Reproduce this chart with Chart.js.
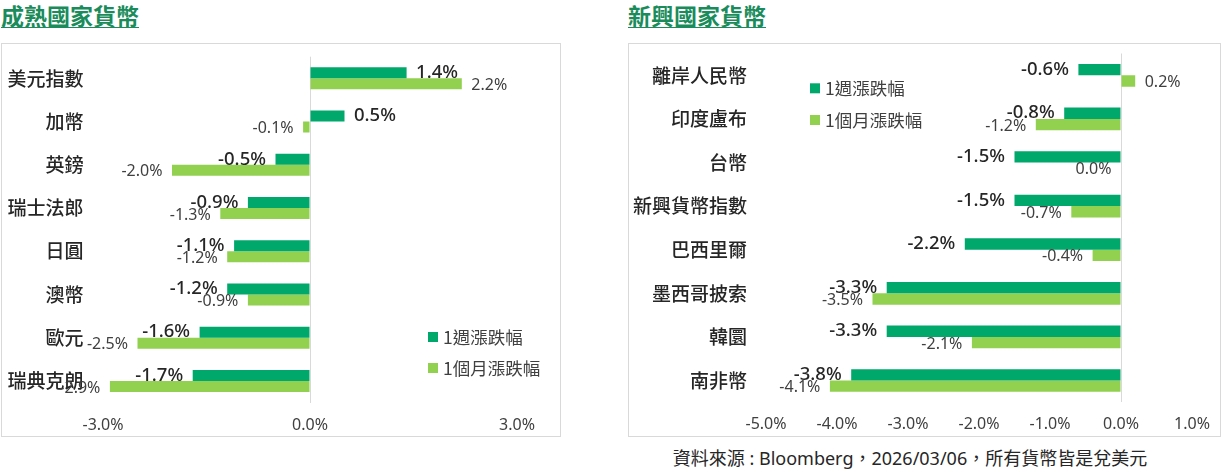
<!DOCTYPE html>
<html>
<head>
<meta charset="utf-8">
<script src="https://cdn.jsdelivr.net/npm/chart.js@4"></script>
<style>
  html, body { margin: 0; padding: 0; background: #ffffff; }
  body { width: 1222px; height: 472px; position: relative; overflow: hidden; }
  .title { position: absolute; top: 3px; font-family: "Noto Sans CJK TC", sans-serif; font-weight: 700;
           font-size: 23px; line-height: 24px; color: #1a8c5b; border-bottom: 1.5px solid #1a8c5b; white-space: nowrap; }
  .box { position: absolute; top: 43px; height: 394px; box-sizing: border-box; border: 1px solid #d9d9d9; }
  .wrap { position: absolute; top: 43px; height: 394px; }
  .source { position: absolute; left: 628px; width: 564px; top: 447px; text-align: center;
            font-family: "Noto Sans", "Noto Sans CJK TC", sans-serif; font-size: 18px; line-height: 22px; color: #262626; white-space: nowrap; }
</style>
</head>
<body>
<div class="title" style="left:1px;">成熟國家貨幣</div>
<div class="title" style="left:628px;">新興國家貨幣</div>
<div class="box" style="left:1px; width:560px;"></div>
<div class="box" style="left:628px; width:593px;"></div>
<div class="wrap" style="left:1px; width:560px;"><canvas id="leftChart"></canvas></div>
<div class="wrap" style="left:628px; width:593px;"><canvas id="rightChart"></canvas></div>
<div class="source">資料來源 : Bloomberg，2026/03/06，所有貨幣皆是兌美元</div>
<script>
// ---- data ----
const seriesNames = ['1週漲跌幅', '1個月漲跌幅'];

const leftCategories = ['美元指數', '加幣', '英鎊', '瑞士法郎', '日圓', '澳幣', '歐元', '瑞典克朗'];
const leftWeek  = [1.4, 0.5, -0.5, -0.9, -1.1, -1.2, -1.6, -1.7];
const leftMonth = [2.2, -0.1, -2.0, -1.3, -1.2, -0.9, -2.5, -2.9];
const leftTicks = [-3, 0, 3];

const rightCategories = ['離岸人民幣', '印度盧布', '台幣', '新興貨幣指數', '巴西里爾', '墨西哥披索', '韓圜', '南非幣'];
const rightWeek  = [-0.6, -0.8, -1.5, -1.5, -2.2, -3.3, -3.3, -3.8];
const rightMonth = [0.2, -1.2, 0.0, -0.7, -0.4, -3.5, -2.1, -4.1];
const rightTicks = [-5, -4, -3, -2, -1, 0, 1];

// ---- styles ----
const DARK = '#00A86B';
const LIGHT = '#92D050';
const NUM_FONT = '"Noto Sans", "Noto Sans CJK TC", sans-serif';
const CJK_FONT = '"Noto Sans CJK TC", "Noto Sans", sans-serif';

const valueLabels = {
  id: 'valueLabels',
  afterDatasetsDraw(chart, args, opts) {
    const ctx = chart.ctx;
    chart.data.datasets.forEach((ds, di) => {
      const meta = chart.getDatasetMeta(di);
      const st = opts.styles[di];
      ctx.save();
      ctx.font = st.font;
      ctx.fillStyle = st.color;
      ctx.textBaseline = 'middle';
      meta.data.forEach((bar, i) => {
        const v = ds.data[i];
        const txt = v.toFixed(1) + '%';
        if (v > 0) { ctx.textAlign = 'left'; ctx.fillText(txt, bar.x + opts.pad, bar.y + st.dy); }
        else { ctx.textAlign = 'right'; ctx.fillText(txt, bar.x - opts.pad, bar.y + st.dy); }
      });
      ctx.restore();
    });
  }
};

const boxLegend = {
  id: 'boxLegend',
  afterDraw(chart, args, opts) {
    const ctx = chart.ctx;
    ctx.save();
    ctx.font = opts.font;
    ctx.textBaseline = 'middle';
    ctx.textAlign = 'left';
    chart.data.datasets.forEach((ds, i) => {
      const y = opts.y + i * opts.gap;
      ctx.fillStyle = ds.backgroundColor;
      ctx.fillRect(opts.x, y - opts.box / 2, opts.box, opts.box);
      ctx.fillStyle = opts.color;
      ctx.fillText(ds.label, opts.x + opts.box + opts.spacing, y);
    });
    ctx.restore();
  }
};

function makeChart(id, cats, week, month, ticks, cfg) {
  return new Chart(document.getElementById(id), {
    type: 'bar',
    data: {
      labels: cats,
      datasets: [
        { label: seriesNames[0], data: week, backgroundColor: DARK, categoryPercentage: cfg.catPct, barPercentage: 1 },
        { label: seriesNames[1], data: month, backgroundColor: LIGHT, categoryPercentage: cfg.catPct, barPercentage: 1 }
      ]
    },
    options: {
      indexAxis: 'y',
      responsive: true,
      maintainAspectRatio: false,
      animation: false,
      layout: { padding: cfg.padding },
      scales: {
        x: {
          min: ticks[0], max: ticks[ticks.length - 1],
          afterBuildTicks: s => { s.ticks = ticks.map(v => ({ value: v })); },
          ticks: { callback: v => Number(v).toFixed(1) + '%', font: { size: 16, family: NUM_FONT }, color: '#404040',
                   padding: 13, maxRotation: 0, autoSkip: false },
          grid: { color: c => (c.tick && c.tick.value === 0) ? '#d9d9d9' : 'rgba(0,0,0,0)', drawTicks: false, lineWidth: 1 },
          border: { display: false },
          afterFit: s => { s.height = cfg.xHeight; s.paddingLeft = 0; s.paddingRight = 0; }
        },
        y: {
          ticks: { font: { size: 19, family: CJK_FONT, weight: 500, lineHeight: 1 }, color: '#262626', padding: 0, autoSkip: false },
          grid: { display: false, drawTicks: true, tickLength: cfg.yPad },
          border: { display: false },
          afterFit: s => { s.width = cfg.yWidth; s.paddingTop = 0; s.paddingBottom = 0; }
        }
      },
      plugins: {
        legend: { display: false },
        tooltip: { enabled: false },
        valueLabels: {
          pad: 9.5,
          styles: [
            { font: '500 18.5px ' + NUM_FONT, color: '#262626', dy: 0 },
            { font: '16px ' + NUM_FONT, color: '#404040', dy: 1.5 }
          ]
        },
        boxLegend: { x: cfg.legendX, y: cfg.legendY, gap: cfg.legendGap, box: 10, spacing: 5,
                     font: '17.5px ' + CJK_FONT, color: '#404040' }
      }
    },
    plugins: [valueLabels, boxLegend]
  });
}

makeChart('leftChart', leftCategories, leftWeek, leftMonth, leftTicks, {
  catPct: 0.51, padding: { left: 0, right: 44, top: 13.7, bottom: 0 },
  xHeight: 34.4, yWidth: 102, yPad: 19.5,
  legendX: 427, legendY: 294, legendGap: 31
});
makeChart('rightChart', rightCategories, rightWeek, rightMonth, rightTicks, {
  catPct: 0.52, padding: { left: 0, right: 29, top: 10.5, bottom: 0 },
  xHeight: 34.7, yWidth: 138, yPad: 19,
  legendX: 182, legendY: 45.3, legendGap: 31.7
});
</script>
</body>
</html>
